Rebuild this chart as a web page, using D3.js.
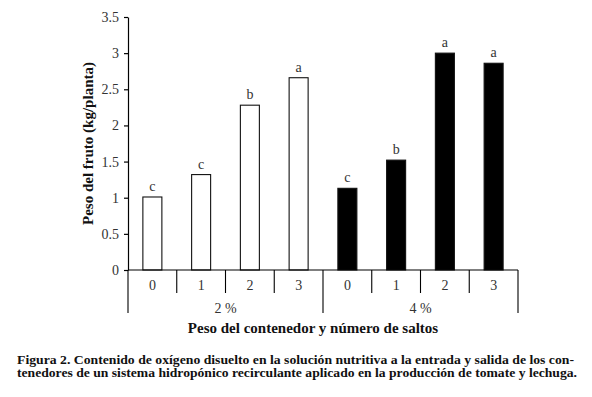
<!DOCTYPE html>
<html>
<head>
<meta charset="utf-8">
<script src="https://cdn.jsdelivr.net/npm/d3@7"></script>
<style>
  body { margin: 0; background: #fff; }
  svg text { font-family: "Liberation Serif", "Times New Roman", serif; }
</style>
</head>
<body>
<div id="chart"></div>
<script>
// data
const groups = ["2 %", "4 %"];
const saltos = ["0", "1", "2", "3"];
const valores2 = [1.01, 1.32, 2.28, 2.66];
const valores4 = [1.13, 1.52, 3.0, 2.86];
const letras2 = ["c", "c", "b", "a"];
const letras4 = ["c", "b", "a", "a"];
const yTicks = [0, 0.5, 1, 1.5, 2, 2.5, 3, 3.5];

const rows = [];
groups.forEach((g, gi) => {
  const vals = gi === 0 ? valores2 : valores4;
  const lets = gi === 0 ? letras2 : letras4;
  saltos.forEach((s, i) => rows.push({ group: g, gi: gi, salto: s, value: vals[i], letra: lets[i], key: g + "-" + s }));
});

const W = 592, H = 397;
const FONT = "Liberation Serif";
let margin = {top: 17, right: 74, bottom: 127, left: 128},
  width = W - margin.left - margin.right,
  height = H - margin.top - margin.bottom;

let svg = d3.select("#chart").append("svg")
  .attr("width", W).attr("height", H)
  .attr("font-family", FONT);

let g = svg.append("g")
  .attr("transform", "translate(" + margin.left + "," + margin.top + ")");

let x = d3.scaleBand()
  .domain(rows.map(d => d.key))
  .range([0, width])
  .paddingInner(0).paddingOuter(0);

let y = d3.scaleLinear()
  .domain([0, 3.5])
  .range([height, 0]);

// y axis
let yAxis = g.append("g")
  .call(d3.axisLeft(y).tickValues(yTicks).tickFormat(d => d).tickSize(4).tickSizeOuter(0))
  .attr("font-family", FONT)
  .attr("font-size", 14);
yAxis.select(".domain").attr("stroke", "#000").attr("stroke-width", 1.2);
yAxis.selectAll(".tick line").attr("stroke", "#000").attr("stroke-width", 1.2);
yAxis.selectAll("text").attr("fill", "#333").attr("dx", "-2");

// bars
g.append("g").selectAll("rect")
  .data(rows)
  .enter().append("rect")
    .attr("x", d => x(d.key) + (x.bandwidth() - 19) / 2)
    .attr("y", d => y(d.value))
    .attr("width", 19)
    .attr("height", d => y(0) - y(d.value))
    .attr("fill", d => d.gi === 0 ? "#fff" : "#000")
    .attr("stroke", "#111")
    .attr("stroke-width", 1.1);

// significance letters
g.append("g").selectAll("text")
  .data(rows)
  .enter().append("text")
    .attr("x", d => x(d.key) + x.bandwidth() / 2)
    .attr("y", d => y(d.value) - 6)
    .attr("text-anchor", "middle")
    .attr("font-size", 14)
    .attr("fill", "#333")
    .text(d => d.letra);

// baseline and category table
g.append("line")
  .attr("x1", 0).attr("x2", width)
  .attr("y1", height).attr("y2", height)
  .attr("stroke", "#000").attr("stroke-width", 1.2);

let bottom = g.append("g").attr("transform", "translate(0," + height + ")");

// inner separators between saltos
rows.forEach((d, i) => {
  if (i === 0 || i === 4) return;
  bottom.append("line")
    .attr("x1", x(d.key)).attr("x2", x(d.key))
    .attr("y1", 0).attr("y2", 23)
    .attr("stroke", "#000").attr("stroke-width", 1.1);
});

// group borders
[0, 4, 8].forEach(i => {
  let xp = i < 8 ? x(rows[i].key) : width;
  bottom.append("line")
    .attr("x1", xp).attr("x2", xp)
    .attr("y1", 0).attr("y2", 43)
    .attr("stroke", "#000").attr("stroke-width", 1.1);
});

bottom.selectAll(".salto")
  .data(rows)
  .enter().append("text")
    .attr("class", "salto")
    .attr("x", d => x(d.key) + x.bandwidth() / 2)
    .attr("y", 20)
    .attr("text-anchor", "middle")
    .attr("font-size", 14)
    .attr("fill", "#333")
    .text(d => d.salto);

bottom.selectAll(".grupo")
  .data(groups)
  .enter().append("text")
    .attr("class", "grupo")
    .attr("x", (d, i) => x(rows[i * 4].key) + x.bandwidth() * 2)
    .attr("y", 43)
    .attr("text-anchor", "middle")
    .attr("font-size", 14)
    .attr("fill", "#333")
    .text(d => d);

// axis titles
svg.append("text")
  .attr("transform", "translate(93," + (margin.top + height / 2) + ") rotate(-90)")
  .attr("text-anchor", "middle")
  .attr("font-size", 15)
  .attr("font-weight", "bold")
  .attr("fill", "#111")
  .text("Peso del fruto (kg/planta)");

svg.append("text")
  .attr("x", 313).attr("y", 333)
  .attr("text-anchor", "middle")
  .attr("font-size", 15)
  .attr("font-weight", "bold")
  .attr("fill", "#111")
  .text("Peso del contenedor y número de saltos");

// caption
const caption = [
  "Figura 2. Contenido de oxígeno disuelto en la solución nutritiva a la entrada y salida de los con-",
  "tenedores de un sistema hidropónico recirculante aplicado en la producción de tomate y lechuga."
];
svg.selectAll(".cap")
  .data(caption)
  .enter().append("text")
    .attr("class", "cap")
    .attr("x", 17)
    .attr("y", (d, i) => 364 + i * 13)
    .attr("font-size", 11.5)
    .attr("font-weight", "bold")
    .attr("fill", "#111")
    .attr("textLength", (d, i) => i === 0 ? 557 : 560)
    .attr("lengthAdjust", "spacingAndGlyphs")
    .text(d => d);
</script>
</body>
</html>
